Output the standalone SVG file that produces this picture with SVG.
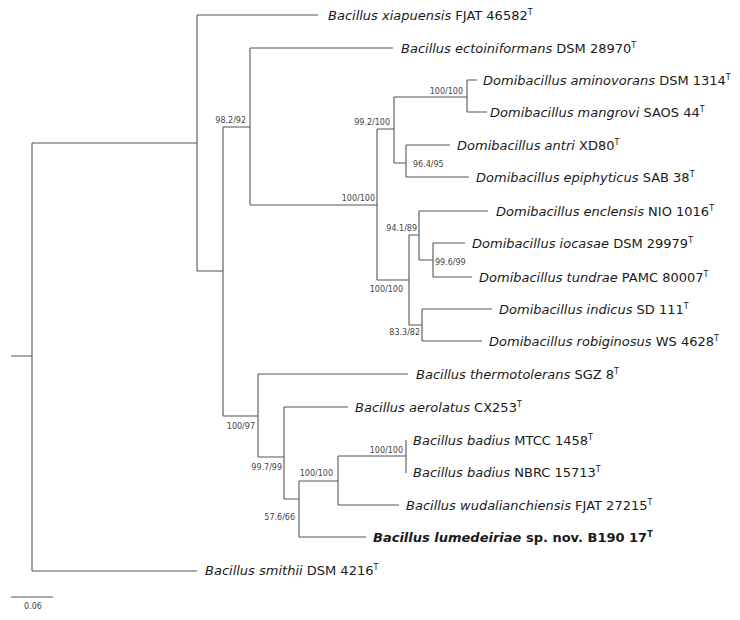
<svg xmlns="http://www.w3.org/2000/svg" width="740" height="620" viewBox="0 0 740 620">
<style>
.br{fill:none;stroke:#555;stroke-width:1.1}
.lab{font-family:"DejaVu Sans","Verdana",sans-serif;font-size:13px;fill:#1a1a1a}
.it{font-style:italic}
.sup{font-size:8px;font-style:normal}
.bs{font-family:"DejaVu Sans","Verdana",sans-serif;font-size:8px;fill:#444}
.b{font-weight:bold}
</style>
<rect width="740" height="620" fill="#fff"/>
<g id="connectors" class="br">
<path d="M11,356H32 M32,143V571 M32,143H197 M32,571H197 M197,15V271 M197,15H318 M197,271H223 M223,127V416 M223,127H250 M250,48V205 M250,48H393 M250,205H377 M377,129V280 M377,129H394 M394,97V163 M394,97H467 M467,80V112 M467,80H477 M467,112H487 M394,163H406 M406,145V177 M406,145H450 M406,177H469 M377,280H409 M409,235V325 M409,235H419 M419,211V260 M419,211H488 M419,260H433 M433,243V277 M433,243H465 M433,277H472 M409,325H422 M422,309V341 M422,309H492 M422,341H482 M223,416H258 M258,374V457 M258,374H408 M258,457H284 M284,407V499 M284,407H348 M284,499H299 M299,481V537 M299,481H338 M338,456V505 M338,456H406 M406,440V473 M338,505H399 M299,537H366"/>
</g>
<g id="leaf-xiapuensis"><text class="lab" x="328" y="20"><tspan class="it">Bacillus xiapuensis</tspan> FJAT 46582<tspan class="sup" dy="-5">T</tspan></text></g>
<g id="leaf-ectoiniformans"><text class="lab" x="401" y="52.5"><tspan class="it">Bacillus ectoiniformans</tspan> DSM 28970<tspan class="sup" dy="-5">T</tspan></text></g>
<g id="leaf-aminovorans"><text class="lab" x="483" y="84.5"><tspan class="it">Domibacillus aminovorans</tspan> DSM 1314<tspan class="sup" dy="-5">T</tspan></text></g>
<g id="leaf-mangrovi"><text class="lab" x="490" y="116.5"><tspan class="it">Domibacillus mangrovi</tspan> SAOS 44<tspan class="sup" dy="-5">T</tspan></text></g>
<g id="leaf-antri"><text class="lab" x="457" y="149.5"><tspan class="it">Domibacillus antri</tspan> XD80<tspan class="sup" dy="-5">T</tspan></text></g>
<g id="leaf-epiphyticus"><text class="lab" x="476" y="181.5"><tspan class="it">Domibacillus epiphyticus</tspan> SAB 38<tspan class="sup" dy="-5">T</tspan></text></g>
<g id="leaf-enclensis"><text class="lab" x="496" y="215.5"><tspan class="it">Domibacillus enclensis</tspan> NIO 1016<tspan class="sup" dy="-5">T</tspan></text></g>
<g id="leaf-iocasae"><text class="lab" x="472" y="247.5"><tspan class="it">Domibacillus iocasae</tspan> DSM 29979<tspan class="sup" dy="-5">T</tspan></text></g>
<g id="leaf-tundrae"><text class="lab" x="479" y="281.5"><tspan class="it">Domibacillus tundrae</tspan> PAMC 80007<tspan class="sup" dy="-5">T</tspan></text></g>
<g id="leaf-indicus"><text class="lab" x="499" y="313.5"><tspan class="it">Domibacillus indicus</tspan> SD 111<tspan class="sup" dy="-5">T</tspan></text></g>
<g id="leaf-robiginosus"><text class="lab" x="489" y="345.5"><tspan class="it">Domibacillus robiginosus</tspan> WS 4628<tspan class="sup" dy="-5">T</tspan></text></g>
<g id="leaf-thermotolerans"><text class="lab" x="416" y="378.5"><tspan class="it">Bacillus thermotolerans</tspan> SGZ 8<tspan class="sup" dy="-5">T</tspan></text></g>
<g id="leaf-aerolatus"><text class="lab" x="355" y="411.5"><tspan class="it">Bacillus aerolatus</tspan> CX253<tspan class="sup" dy="-5">T</tspan></text></g>
<g id="leaf-badius-mtcc"><text class="lab" x="413" y="444.5"><tspan class="it">Bacillus badius</tspan> MTCC 1458<tspan class="sup" dy="-5">T</tspan></text></g>
<g id="leaf-badius-nbrc"><text class="lab" x="413" y="477"><tspan class="it">Bacillus badius</tspan> NBRC 15713<tspan class="sup" dy="-5">T</tspan></text></g>
<g id="leaf-wudalianchiensis"><text class="lab" x="406" y="509.5"><tspan class="it">Bacillus wudalianchiensis</tspan> FJAT 27215<tspan class="sup" dy="-5">T</tspan></text></g>
<g id="leaf-lumedeiriae"><text class="lab b" x="373" y="542"><tspan class="it">Bacillus lumedeiriae</tspan> sp. nov. B190 17<tspan class="sup" dy="-5">T</tspan></text></g>
<g id="leaf-smithii"><text class="lab" x="205" y="575"><tspan class="it">Bacillus smithii</tspan> DSM 4216<tspan class="sup" dy="-5">T</tspan></text></g>
<g id="support-labels">
<text class="bs" x="246" y="123" text-anchor="end">98.2/92</text>
<text class="bs" x="375" y="201" text-anchor="end">100/100</text>
<text class="bs" x="390" y="125" text-anchor="end">99.2/100</text>
<text class="bs" x="463" y="94" text-anchor="end">100/100</text>
<text class="bs" x="413" y="167">96.4/95</text>
<text class="bs" x="417" y="231" text-anchor="end">94.1/89</text>
<text class="bs" x="435" y="265">99.6/99</text>
<text class="bs" x="403" y="292" text-anchor="end">100/100</text>
<text class="bs" x="420" y="335" text-anchor="end">83.3/82</text>
<text class="bs" x="255" y="429" text-anchor="end">100/97</text>
<text class="bs" x="282" y="470" text-anchor="end">99.7/99</text>
<text class="bs" x="295" y="520" text-anchor="end">57.6/66</text>
<text class="bs" x="333" y="476" text-anchor="end">100/100</text>
<text class="bs" x="403" y="453" text-anchor="end">100/100</text>
</g>
<g id="scale-bar">
<path class="br" d="M11,597H53"/>
<text class="bs" x="33" y="609" text-anchor="middle">0.06</text>
</g>
</svg>
